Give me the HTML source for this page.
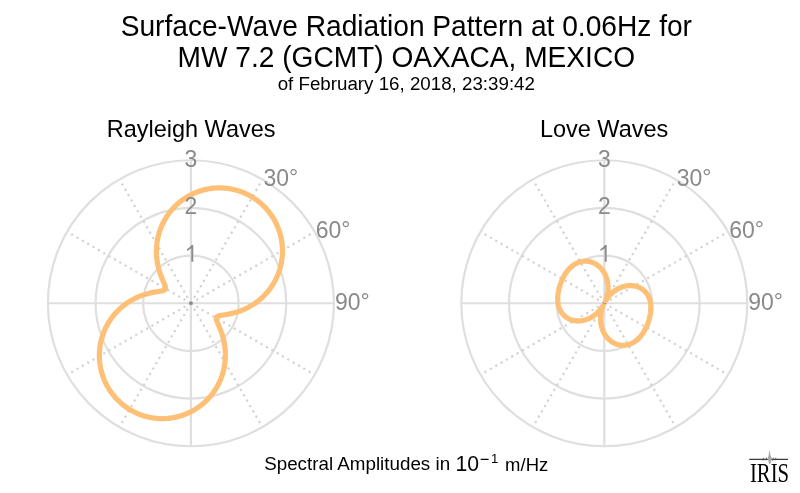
<!DOCTYPE html>
<html><head><meta charset="utf-8"><style>html,body{margin:0;padding:0;background:#fff;}svg{display:block;filter:blur(0.35px)}</style></head>
<body><svg width="800" height="493" viewBox="0 0 800 493">
<rect width="800" height="493" fill="#ffffff"/>
<text transform="translate(406.30,36.10) scale(1,1.04)" font-size="28.15" fill="#000" text-anchor="middle" font-family="Liberation Sans, sans-serif">Surface-Wave Radiation Pattern at 0.06Hz for</text>
<text transform="translate(406.30,66.80) scale(1,1.04)" font-size="28.12" fill="#000" text-anchor="middle" font-family="Liberation Sans, sans-serif">MW 7.2 (GCMT) OAXACA, MEXICO</text>
<text transform="translate(406.30,90.00) scale(1,0.98)" font-size="18.75" fill="#000" text-anchor="middle" font-family="Liberation Sans, sans-serif">of February 16, 2018, 23:39:42</text>
<text transform="translate(191.10,136.90) scale(1,1.04)" font-size="23.5" fill="#000" text-anchor="middle" font-family="Liberation Sans, sans-serif">Rayleigh Waves</text>
<text transform="translate(604.10,136.90) scale(1,1.04)" font-size="23.5" fill="#000" text-anchor="middle" font-family="Liberation Sans, sans-serif">Love Waves</text>
<circle cx="190.9" cy="303.25" r="47.67" fill="none" stroke="#dfdfdf" stroke-width="2.2"/>
<circle cx="190.9" cy="303.25" r="95.33" fill="none" stroke="#dfdfdf" stroke-width="2.2"/>
<circle cx="190.9" cy="303.25" r="143.00" fill="none" stroke="#dfdfdf" stroke-width="2.2"/>
<line x1="47.900000000000006" y1="303.25" x2="333.9" y2="303.25" stroke="#dfdfdf" stroke-width="2.2"/>
<line x1="190.9" y1="160.25" x2="190.9" y2="446.25" stroke="#dfdfdf" stroke-width="2.2"/>
<line x1="190.9" y1="303.25" x2="262.40" y2="179.41" stroke="#d4d4d4" stroke-width="2.5" stroke-linecap="round" stroke-dasharray="0.01 6.17" stroke-dashoffset="-1.2"/>
<line x1="190.9" y1="303.25" x2="314.74" y2="231.75" stroke="#d4d4d4" stroke-width="2.5" stroke-linecap="round" stroke-dasharray="0.01 6.17" stroke-dashoffset="-1.2"/>
<line x1="190.9" y1="303.25" x2="314.74" y2="374.75" stroke="#d4d4d4" stroke-width="2.5" stroke-linecap="round" stroke-dasharray="0.01 6.17" stroke-dashoffset="-1.2"/>
<line x1="190.9" y1="303.25" x2="262.40" y2="427.09" stroke="#d4d4d4" stroke-width="2.5" stroke-linecap="round" stroke-dasharray="0.01 6.17" stroke-dashoffset="-1.2"/>
<line x1="190.9" y1="303.25" x2="119.40" y2="427.09" stroke="#d4d4d4" stroke-width="2.5" stroke-linecap="round" stroke-dasharray="0.01 6.17" stroke-dashoffset="-1.2"/>
<line x1="190.9" y1="303.25" x2="67.06" y2="374.75" stroke="#d4d4d4" stroke-width="2.5" stroke-linecap="round" stroke-dasharray="0.01 6.17" stroke-dashoffset="-1.2"/>
<line x1="190.9" y1="303.25" x2="67.06" y2="231.75" stroke="#d4d4d4" stroke-width="2.5" stroke-linecap="round" stroke-dasharray="0.01 6.17" stroke-dashoffset="-1.2"/>
<line x1="190.9" y1="303.25" x2="119.40" y2="179.41" stroke="#d4d4d4" stroke-width="2.5" stroke-linecap="round" stroke-dasharray="0.01 6.17" stroke-dashoffset="-1.2"/>
<circle cx="190.9" cy="303.25" r="1.8" fill="#8a8a8a"/>
<path d="M190.90,194.78 L191.85,194.30 L192.81,193.84 L193.78,193.40 L194.75,192.97 L195.73,192.56 L196.72,192.17 L197.72,191.79 L198.72,191.43 L199.73,191.08 L200.74,190.75 L201.76,190.44 L202.79,190.15 L203.82,189.88 L204.85,189.62 L205.89,189.38 L206.93,189.16 L207.98,188.95 L209.03,188.76 L210.09,188.59 L211.14,188.44 L212.20,188.31 L213.26,188.19 L214.33,188.10 L215.39,188.02 L216.46,187.96 L217.53,187.91 L218.60,187.89 L219.66,187.88 L220.73,187.89 L221.80,187.92 L222.87,187.97 L223.94,188.04 L225.00,188.12 L226.07,188.22 L227.13,188.34 L228.19,188.48 L229.25,188.64 L230.30,188.81 L231.36,189.01 L232.40,189.22 L233.45,189.44 L234.49,189.69 L235.53,189.96 L236.56,190.24 L237.59,190.54 L238.61,190.85 L239.63,191.19 L240.64,191.54 L241.64,191.91 L242.64,192.29 L243.63,192.69 L244.62,193.11 L245.59,193.55 L246.56,194.00 L247.53,194.47 L248.48,194.96 L249.43,195.46 L250.36,195.98 L251.29,196.51 L252.21,197.06 L253.12,197.63 L254.02,198.21 L254.91,198.80 L255.79,199.41 L256.65,200.04 L257.51,200.68 L258.36,201.33 L259.19,202.00 L260.02,202.68 L260.83,203.38 L261.63,204.09 L262.42,204.81 L263.19,205.55 L263.96,206.30 L264.71,207.06 L265.44,207.84 L266.17,208.63 L266.88,209.43 L267.57,210.24 L268.25,211.06 L268.92,211.90 L269.58,212.74 L270.22,213.60 L270.84,214.47 L271.45,215.34 L272.05,216.23 L272.62,217.13 L273.19,218.04 L273.74,218.95 L274.27,219.88 L274.79,220.81 L275.29,221.76 L275.77,222.71 L276.24,223.67 L276.70,224.63 L277.13,225.61 L277.55,226.59 L277.96,227.57 L278.34,228.57 L278.71,229.57 L279.06,230.57 L279.40,231.59 L279.72,232.60 L280.02,233.62 L280.30,234.65 L280.57,235.68 L280.82,236.72 L281.05,237.75 L281.26,238.80 L281.46,239.84 L281.64,240.89 L281.80,241.94 L281.94,242.99 L282.07,244.05 L282.17,245.10 L282.26,246.16 L282.34,247.22 L282.39,248.28 L282.43,249.34 L282.45,250.39 L282.45,251.45 L282.43,252.51 L282.40,253.57 L282.35,254.63 L282.28,255.68 L282.19,256.73 L282.09,257.78 L281.97,258.83 L281.83,259.88 L281.67,260.92 L281.50,261.96 L281.31,263.00 L281.10,264.03 L280.88,265.06 L280.64,266.08 L280.38,267.10 L280.11,268.11 L279.81,269.12 L279.51,270.12 L279.18,271.12 L278.84,272.11 L278.49,273.09 L278.12,274.07 L277.73,275.04 L277.33,276.00 L276.91,276.95 L276.48,277.90 L276.03,278.84 L275.56,279.77 L275.09,280.69 L274.59,281.61 L274.09,282.51 L273.57,283.40 L273.03,284.29 L272.48,285.16 L271.92,286.03 L271.35,286.88 L270.76,287.73 L270.16,288.56 L269.54,289.38 L268.92,290.19 L268.28,290.99 L267.63,291.78 L266.97,292.56 L266.30,293.32 L265.62,294.08 L264.92,294.82 L264.22,295.54 L263.50,296.26 L262.78,296.96 L262.05,297.65 L261.30,298.33 L260.55,298.99 L259.79,299.64 L259.02,300.28 L258.25,300.90 L257.46,301.51 L256.67,302.10 L255.88,302.68 L255.07,303.25 L254.26,303.80 L253.45,304.34 L252.63,304.87 L251.80,305.38 L250.97,305.87 L250.14,306.35 L249.30,306.82 L248.46,307.27 L247.61,307.71 L246.77,308.14 L245.92,308.55 L245.07,308.94 L244.22,309.33 L243.37,309.69 L242.52,310.05 L241.67,310.39 L240.83,310.71 L239.98,311.02 L239.14,311.32 L238.30,311.61 L237.46,311.88 L236.63,312.14 L235.80,312.39 L234.98,312.62 L234.17,312.84 L233.36,313.05 L232.56,313.25 L231.77,313.44 L230.98,313.62 L230.21,313.78 L229.45,313.94 L228.70,314.09 L227.97,314.23 L227.24,314.36 L226.54,314.49 L225.84,314.60 L225.17,314.72 L224.51,314.82 L223.87,314.92 L223.25,315.02 L222.65,315.12 L222.07,315.22 L221.52,315.31 L220.98,315.40 L220.48,315.50 L220.00,315.60 L219.54,315.70 L219.11,315.81 L218.71,315.93 L218.34,316.05 L218.00,316.18 L217.69,316.32 L217.41,316.47 L217.16,316.63 L216.94,316.80 L216.75,316.99 L216.59,317.20 L216.46,317.42 L216.37,317.66 L216.30,317.91 L216.26,318.19 L216.25,318.48 L216.26,318.79 L216.30,319.12 L216.37,319.48 L216.46,319.85 L216.57,320.24 L216.70,320.65 L216.85,321.09 L217.02,321.54 L217.21,322.02 L217.41,322.51 L217.62,323.03 L217.85,323.56 L218.09,324.11 L218.34,324.69 L218.59,325.28 L218.85,325.89 L219.12,326.51 L219.39,327.16 L219.67,327.82 L219.94,328.50 L220.22,329.19 L220.50,329.90 L220.78,330.63 L221.05,331.37 L221.32,332.12 L221.59,332.89 L221.86,333.67 L222.12,334.47 L222.37,335.27 L222.62,336.09 L222.85,336.92 L223.09,337.77 L223.31,338.62 L223.52,339.48 L223.73,340.36 L223.92,341.24 L224.11,342.13 L224.28,343.03 L224.44,343.94 L224.59,344.86 L224.73,345.78 L224.86,346.72 L224.97,347.65 L225.07,348.60 L225.16,349.55 L225.23,350.51 L225.29,351.47 L225.34,352.44 L225.37,353.41 L225.39,354.38 L225.39,355.36 L225.38,356.34 L225.35,357.33 L225.31,358.32 L225.25,359.31 L225.18,360.30 L225.09,361.29 L224.99,362.29 L224.87,363.28 L224.73,364.28 L224.58,365.28 L224.41,366.27 L224.22,367.27 L224.02,368.26 L223.81,369.25 L223.58,370.24 L223.33,371.23 L223.06,372.22 L222.78,373.20 L222.48,374.18 L222.17,375.16 L221.84,376.14 L221.49,377.10 L221.13,378.07 L220.75,379.03 L220.36,379.99 L219.95,380.94 L219.52,381.88 L219.08,382.82 L218.62,383.75 L218.15,384.68 L217.66,385.60 L217.15,386.51 L216.63,387.41 L216.10,388.31 L215.54,389.20 L214.98,390.08 L214.40,390.95 L213.80,391.81 L213.19,392.66 L212.57,393.50 L211.93,394.34 L211.28,395.16 L210.61,395.97 L209.93,396.77 L209.23,397.57 L208.52,398.35 L207.80,399.11 L207.07,399.87 L206.32,400.62 L205.56,401.35 L204.79,402.07 L204.00,402.78 L203.21,403.47 L202.40,404.15 L201.58,404.82 L200.74,405.47 L199.90,406.11 L199.04,406.74 L198.18,407.35 L197.30,407.95 L196.42,408.54 L195.52,409.10 L194.62,409.66 L193.70,410.20 L192.78,410.72 L191.84,411.23 L190.90,411.72 L189.95,412.20 L188.99,412.66 L188.02,413.10 L187.05,413.53 L186.07,413.94 L185.08,414.33 L184.08,414.71 L183.08,415.07 L182.07,415.42 L181.06,415.75 L180.04,416.06 L179.01,416.35 L177.98,416.62 L176.95,416.88 L175.91,417.12 L174.87,417.34 L173.82,417.55 L172.77,417.74 L171.71,417.91 L170.66,418.06 L169.60,418.19 L168.54,418.31 L167.47,418.40 L166.41,418.48 L165.34,418.54 L164.27,418.59 L163.20,418.61 L162.14,418.62 L161.07,418.61 L160.00,418.58 L158.93,418.53 L157.86,418.46 L156.80,418.38 L155.73,418.28 L154.67,418.16 L153.61,418.02 L152.55,417.86 L151.50,417.69 L150.44,417.49 L149.40,417.28 L148.35,417.06 L147.31,416.81 L146.27,416.54 L145.24,416.26 L144.21,415.96 L143.19,415.65 L142.17,415.31 L141.16,414.96 L140.16,414.59 L139.16,414.21 L138.17,413.81 L137.18,413.39 L136.21,412.95 L135.24,412.50 L134.27,412.03 L133.32,411.54 L132.37,411.04 L131.44,410.52 L130.51,409.99 L129.59,409.44 L128.68,408.87 L127.78,408.29 L126.89,407.70 L126.01,407.09 L125.15,406.46 L124.29,405.82 L123.44,405.17 L122.61,404.50 L121.78,403.82 L120.97,403.12 L120.17,402.41 L119.38,401.69 L118.61,400.95 L117.84,400.20 L117.09,399.44 L116.36,398.66 L115.63,397.87 L114.92,397.07 L114.23,396.26 L113.55,395.44 L112.88,394.60 L112.22,393.76 L111.58,392.90 L110.96,392.03 L110.35,391.16 L109.75,390.27 L109.18,389.37 L108.61,388.46 L108.06,387.55 L107.53,386.62 L107.01,385.69 L106.51,384.74 L106.03,383.79 L105.56,382.83 L105.10,381.87 L104.67,380.89 L104.25,379.91 L103.84,378.93 L103.46,377.93 L103.09,376.93 L102.74,375.93 L102.40,374.91 L102.08,373.90 L101.78,372.88 L101.50,371.85 L101.23,370.82 L100.98,369.78 L100.75,368.75 L100.54,367.70 L100.34,366.66 L100.16,365.61 L100.00,364.56 L99.86,363.51 L99.73,362.45 L99.63,361.40 L99.54,360.34 L99.46,359.28 L99.41,358.22 L99.37,357.16 L99.35,356.11 L99.35,355.05 L99.37,353.99 L99.40,352.93 L99.45,351.87 L99.52,350.82 L99.61,349.77 L99.71,348.72 L99.83,347.67 L99.97,346.62 L100.13,345.58 L100.30,344.54 L100.49,343.50 L100.70,342.47 L100.92,341.44 L101.16,340.42 L101.42,339.40 L101.69,338.39 L101.99,337.38 L102.29,336.38 L102.62,335.38 L102.96,334.39 L103.31,333.41 L103.68,332.43 L104.07,331.46 L104.47,330.50 L104.89,329.55 L105.32,328.60 L105.77,327.66 L106.24,326.73 L106.71,325.81 L107.21,324.89 L107.71,323.99 L108.23,323.10 L108.77,322.21 L109.32,321.34 L109.88,320.47 L110.45,319.62 L111.04,318.77 L111.64,317.94 L112.26,317.12 L112.88,316.31 L113.52,315.51 L114.17,314.72 L114.83,313.94 L115.50,313.18 L116.18,312.42 L116.88,311.68 L117.58,310.96 L118.30,310.24 L119.02,309.54 L119.75,308.85 L120.50,308.17 L121.25,307.51 L122.01,306.86 L122.78,306.22 L123.55,305.60 L124.34,304.99 L125.13,304.40 L125.92,303.82 L126.73,303.25 L127.54,302.70 L128.35,302.16 L129.17,301.63 L130.00,301.12 L130.83,300.63 L131.66,300.15 L132.50,299.68 L133.34,299.23 L134.19,298.79 L135.03,298.36 L135.88,297.95 L136.73,297.56 L137.58,297.17 L138.43,296.81 L139.28,296.45 L140.13,296.11 L140.97,295.79 L141.82,295.48 L142.66,295.18 L143.50,294.89 L144.34,294.62 L145.17,294.36 L146.00,294.11 L146.82,293.88 L147.63,293.66 L148.44,293.45 L149.24,293.25 L150.03,293.06 L150.82,292.88 L151.59,292.72 L152.35,292.56 L153.10,292.41 L153.83,292.27 L154.56,292.14 L155.26,292.01 L155.96,291.90 L156.63,291.78 L157.29,291.68 L157.93,291.58 L158.55,291.48 L159.15,291.38 L159.73,291.28 L160.28,291.19 L160.82,291.10 L161.32,291.00 L161.80,290.90 L162.26,290.80 L162.69,290.69 L163.09,290.57 L163.46,290.45 L163.80,290.32 L164.11,290.18 L164.39,290.03 L164.64,289.87 L164.86,289.70 L165.05,289.51 L165.21,289.30 L165.34,289.08 L165.43,288.84 L165.50,288.59 L165.54,288.31 L165.55,288.02 L165.54,287.71 L165.50,287.38 L165.43,287.02 L165.34,286.65 L165.23,286.26 L165.10,285.85 L164.95,285.41 L164.78,284.96 L164.59,284.48 L164.39,283.99 L164.18,283.47 L163.95,282.94 L163.71,282.39 L163.46,281.81 L163.21,281.22 L162.95,280.61 L162.68,279.99 L162.41,279.34 L162.13,278.68 L161.86,278.00 L161.58,277.31 L161.30,276.60 L161.02,275.87 L160.75,275.13 L160.48,274.38 L160.21,273.61 L159.94,272.83 L159.68,272.03 L159.43,271.23 L159.18,270.41 L158.95,269.58 L158.71,268.73 L158.49,267.88 L158.28,267.02 L158.07,266.14 L157.88,265.26 L157.69,264.37 L157.52,263.47 L157.36,262.56 L157.21,261.64 L157.07,260.72 L156.94,259.78 L156.83,258.85 L156.73,257.90 L156.64,256.95 L156.57,255.99 L156.51,255.03 L156.46,254.06 L156.43,253.09 L156.41,252.12 L156.41,251.14 L156.42,250.16 L156.45,249.17 L156.49,248.18 L156.55,247.19 L156.62,246.20 L156.71,245.21 L156.81,244.21 L156.93,243.22 L157.07,242.22 L157.22,241.22 L157.39,240.23 L157.58,239.23 L157.78,238.24 L157.99,237.25 L158.22,236.26 L158.47,235.27 L158.74,234.28 L159.02,233.30 L159.32,232.32 L159.63,231.34 L159.96,230.36 L160.31,229.40 L160.67,228.43 L161.05,227.47 L161.44,226.51 L161.85,225.56 L162.28,224.62 L162.72,223.68 L163.18,222.75 L163.65,221.82 L164.14,220.90 L164.65,219.99 L165.17,219.09 L165.70,218.19 L166.26,217.30 L166.82,216.42 L167.40,215.55 L168.00,214.69 L168.61,213.84 L169.23,213.00 L169.87,212.16 L170.52,211.34 L171.19,210.53 L171.87,209.73 L172.57,208.93 L173.28,208.15 L174.00,207.39 L174.73,206.63 L175.48,205.88 L176.24,205.15 L177.01,204.43 L177.80,203.72 L178.59,203.03 L179.40,202.35 L180.22,201.68 L181.06,201.03 L181.90,200.39 L182.76,199.76 L183.62,199.15 L184.50,198.55 L185.38,197.96 L186.28,197.40 L187.18,196.84 L188.10,196.30 L189.02,195.78 L189.96,195.27Z" fill="none" stroke="#fdc076" stroke-width="5.2" stroke-linejoin="round"/>
<path d="M191.35,245.08 L193.25,245.08 L193.25,261.78 L191.35,261.78 L191.35,248.28 L187.00,251.08 L187.00,249.18 Q190.30,247.28 191.60,245.08 Z" fill="#8a8a8a"/>
<text transform="translate(190.90,214.22) scale(1,1.03)" font-size="23" fill="#8a8a8a" text-anchor="middle" font-family="Liberation Sans, sans-serif">2</text>
<text transform="translate(190.90,166.55) scale(1,1.03)" font-size="23" fill="#8a8a8a" text-anchor="middle" font-family="Liberation Sans, sans-serif">3</text>
<text transform="translate(263.40,185.91) scale(1,1.03)" font-size="23" fill="#8a8a8a" font-family="Liberation Sans, sans-serif">30<tspan dy="-1">°</tspan></text>
<text transform="translate(315.74,238.25) scale(1,1.03)" font-size="23" fill="#8a8a8a" font-family="Liberation Sans, sans-serif">60<tspan dy="-1">°</tspan></text>
<text transform="translate(334.90,309.75) scale(1,1.03)" font-size="23" fill="#8a8a8a" font-family="Liberation Sans, sans-serif">90<tspan dy="-1">°</tspan></text>
<circle cx="604.3" cy="303.25" r="47.67" fill="none" stroke="#dfdfdf" stroke-width="2.2"/>
<circle cx="604.3" cy="303.25" r="95.33" fill="none" stroke="#dfdfdf" stroke-width="2.2"/>
<circle cx="604.3" cy="303.25" r="143.00" fill="none" stroke="#dfdfdf" stroke-width="2.2"/>
<line x1="461.29999999999995" y1="303.25" x2="747.3" y2="303.25" stroke="#dfdfdf" stroke-width="2.2"/>
<line x1="604.3" y1="160.25" x2="604.3" y2="446.25" stroke="#dfdfdf" stroke-width="2.2"/>
<line x1="604.3" y1="303.25" x2="675.80" y2="179.41" stroke="#d4d4d4" stroke-width="2.5" stroke-linecap="round" stroke-dasharray="0.01 6.17" stroke-dashoffset="-1.2"/>
<line x1="604.3" y1="303.25" x2="728.14" y2="231.75" stroke="#d4d4d4" stroke-width="2.5" stroke-linecap="round" stroke-dasharray="0.01 6.17" stroke-dashoffset="-1.2"/>
<line x1="604.3" y1="303.25" x2="728.14" y2="374.75" stroke="#d4d4d4" stroke-width="2.5" stroke-linecap="round" stroke-dasharray="0.01 6.17" stroke-dashoffset="-1.2"/>
<line x1="604.3" y1="303.25" x2="675.80" y2="427.09" stroke="#d4d4d4" stroke-width="2.5" stroke-linecap="round" stroke-dasharray="0.01 6.17" stroke-dashoffset="-1.2"/>
<line x1="604.3" y1="303.25" x2="532.80" y2="427.09" stroke="#d4d4d4" stroke-width="2.5" stroke-linecap="round" stroke-dasharray="0.01 6.17" stroke-dashoffset="-1.2"/>
<line x1="604.3" y1="303.25" x2="480.46" y2="374.75" stroke="#d4d4d4" stroke-width="2.5" stroke-linecap="round" stroke-dasharray="0.01 6.17" stroke-dashoffset="-1.2"/>
<line x1="604.3" y1="303.25" x2="480.46" y2="231.75" stroke="#d4d4d4" stroke-width="2.5" stroke-linecap="round" stroke-dasharray="0.01 6.17" stroke-dashoffset="-1.2"/>
<line x1="604.3" y1="303.25" x2="532.80" y2="179.41" stroke="#d4d4d4" stroke-width="2.5" stroke-linecap="round" stroke-dasharray="0.01 6.17" stroke-dashoffset="-1.2"/>
<circle cx="604.3" cy="303.25" r="1.8" fill="#8a8a8a"/>
<path d="M604.30,273.00 L604.56,273.48 L604.81,273.96 L605.05,274.45 L605.29,274.94 L605.51,275.45 L605.73,275.96 L605.94,276.47 L606.14,276.99 L606.33,277.52 L606.50,278.05 L606.67,278.59 L606.84,279.13 L606.99,279.68 L607.13,280.23 L607.26,280.79 L607.38,281.35 L607.49,281.91 L607.59,282.48 L607.68,283.05 L607.76,283.63 L607.83,284.20 L607.89,284.78 L607.94,285.37 L607.98,285.95 L608.01,286.54 L608.02,287.12 L608.03,287.71 L608.03,288.30 L608.01,288.89 L607.99,289.48 L607.95,290.07 L607.91,290.66 L607.85,291.25 L607.79,291.84 L607.71,292.42 L607.63,293.00 L607.53,293.58 L607.43,294.16 L607.32,294.73 L607.20,295.29 L607.07,295.85 L606.93,296.41 L606.78,296.95 L606.63,297.48 L606.47,298.00 L606.32,298.50 L606.16,298.98 L606.00,299.43 L605.86,299.84 L605.73,300.19 L605.62,300.48 L605.56,300.67 L605.55,300.75 L605.59,300.71 L605.70,300.56 L605.85,300.33 L606.05,300.02 L606.29,299.67 L606.54,299.28 L606.82,298.88 L607.12,298.46 L607.44,298.03 L607.77,297.59 L608.11,297.16 L608.46,296.73 L608.82,296.29 L609.19,295.86 L609.57,295.44 L609.96,295.02 L610.35,294.61 L610.76,294.20 L611.17,293.80 L611.59,293.40 L612.01,293.02 L612.44,292.64 L612.88,292.27 L613.32,291.91 L613.77,291.56 L614.22,291.21 L614.68,290.88 L615.15,290.55 L615.61,290.24 L616.09,289.93 L616.56,289.63 L617.04,289.35 L617.52,289.07 L618.01,288.80 L618.50,288.55 L618.99,288.30 L619.49,288.06 L619.98,287.84 L620.48,287.62 L620.98,287.42 L621.49,287.22 L621.99,287.04 L622.50,286.87 L623.00,286.70 L623.51,286.55 L624.01,286.41 L624.52,286.28 L625.03,286.16 L625.53,286.06 L626.04,285.96 L626.54,285.87 L627.05,285.79 L627.55,285.73 L628.05,285.67 L628.55,285.63 L629.05,285.60 L629.55,285.57 L630.04,285.56 L630.53,285.56 L631.02,285.57 L631.50,285.58 L631.98,285.61 L632.46,285.65 L632.94,285.70 L633.41,285.76 L633.88,285.83 L634.34,285.91 L634.80,285.99 L635.25,286.09 L635.70,286.20 L636.15,286.32 L636.59,286.44 L637.02,286.58 L637.45,286.72 L637.88,286.87 L638.30,287.03 L638.71,287.20 L639.12,287.38 L639.52,287.57 L639.92,287.76 L640.31,287.97 L640.69,288.18 L641.07,288.40 L641.44,288.62 L641.80,288.86 L642.16,289.10 L642.51,289.34 L642.85,289.60 L643.19,289.86 L643.52,290.13 L643.84,290.40 L644.15,290.68 L644.46,290.97 L644.76,291.26 L645.06,291.56 L645.34,291.87 L645.62,292.18 L645.89,292.49 L646.15,292.81 L646.41,293.14 L646.66,293.47 L646.90,293.81 L647.13,294.15 L647.36,294.49 L647.58,294.84 L647.79,295.19 L648.00,295.55 L648.19,295.90 L648.38,296.27 L648.56,296.63 L648.74,297.00 L648.91,297.38 L649.07,297.75 L649.22,298.13 L649.36,298.51 L649.50,298.90 L649.63,299.28 L649.76,299.67 L649.88,300.06 L649.99,300.46 L650.09,300.85 L650.19,301.25 L650.28,301.64 L650.36,302.04 L650.44,302.44 L650.51,302.85 L650.58,303.25 L650.63,303.65 L650.69,304.06 L650.73,304.47 L650.77,304.87 L650.81,305.28 L650.84,305.69 L650.86,306.10 L650.88,306.51 L650.89,306.92 L650.90,307.33 L650.90,307.74 L650.90,308.15 L650.89,308.56 L650.88,308.97 L650.86,309.38 L650.84,309.79 L650.81,310.20 L650.78,310.61 L650.74,311.02 L650.70,311.43 L650.65,311.84 L650.60,312.25 L650.55,312.66 L650.49,313.07 L650.43,313.48 L650.37,313.89 L650.30,314.29 L650.22,314.70 L650.15,315.11 L650.07,315.51 L649.98,315.92 L649.90,316.32 L649.81,316.73 L649.71,317.13 L649.61,317.54 L649.51,317.94 L649.41,318.34 L649.30,318.75 L649.19,319.15 L649.08,319.55 L648.96,319.95 L648.84,320.35 L648.72,320.75 L648.59,321.15 L648.46,321.54 L648.33,321.94 L648.20,322.34 L648.06,322.73 L647.92,323.13 L647.77,323.52 L647.62,323.91 L647.47,324.31 L647.32,324.70 L647.16,325.09 L647.00,325.48 L646.84,325.87 L646.67,326.26 L646.50,326.64 L646.33,327.03 L646.15,327.41 L645.97,327.80 L645.79,328.18 L645.60,328.56 L645.41,328.94 L645.22,329.32 L645.02,329.69 L644.82,330.07 L644.62,330.44 L644.41,330.81 L644.19,331.18 L643.98,331.55 L643.76,331.92 L643.53,332.28 L643.31,332.64 L643.07,333.00 L642.84,333.36 L642.60,333.71 L642.35,334.07 L642.11,334.42 L641.85,334.76 L641.60,335.10 L641.34,335.44 L641.07,335.78 L640.80,336.12 L640.53,336.45 L640.25,336.77 L639.96,337.09 L639.68,337.41 L639.38,337.73 L639.09,338.04 L638.79,338.34 L638.48,338.65 L638.17,338.94 L637.86,339.24 L637.54,339.52 L637.21,339.81 L636.89,340.08 L636.55,340.35 L636.22,340.62 L635.88,340.88 L635.53,341.14 L635.18,341.38 L634.83,341.63 L634.47,341.86 L634.11,342.09 L633.74,342.32 L633.37,342.53 L632.99,342.74 L632.61,342.94 L632.23,343.14 L631.84,343.33 L631.45,343.51 L631.06,343.68 L630.66,343.84 L630.26,344.00 L629.86,344.15 L629.45,344.29 L629.04,344.42 L628.63,344.55 L628.21,344.66 L627.79,344.77 L627.37,344.87 L626.94,344.95 L626.52,345.03 L626.09,345.10 L625.66,345.16 L625.22,345.22 L624.79,345.26 L624.35,345.29 L623.91,345.31 L623.47,345.33 L623.03,345.33 L622.59,345.32 L622.15,345.30 L621.71,345.28 L621.26,345.24 L620.82,345.19 L620.38,345.13 L619.93,345.07 L619.49,344.99 L619.05,344.90 L618.61,344.80 L618.17,344.69 L617.73,344.57 L617.29,344.44 L616.85,344.30 L616.41,344.14 L615.98,343.98 L615.55,343.81 L615.12,343.62 L614.69,343.43 L614.27,343.23 L613.85,343.01 L613.43,342.78 L613.01,342.55 L612.60,342.30 L612.19,342.05 L611.79,341.78 L611.39,341.50 L610.99,341.21 L610.60,340.92 L610.22,340.61 L609.84,340.29 L609.46,339.96 L609.09,339.63 L608.72,339.28 L608.36,338.93 L608.01,338.56 L607.66,338.19 L607.32,337.80 L606.99,337.41 L606.66,337.01 L606.34,336.60 L606.03,336.18 L605.72,335.75 L605.42,335.32 L605.13,334.87 L604.84,334.42 L604.57,333.96 L604.30,333.50 L604.04,333.02 L603.79,332.54 L603.55,332.05 L603.31,331.56 L603.09,331.05 L602.87,330.54 L602.66,330.03 L602.46,329.51 L602.27,328.98 L602.10,328.45 L601.93,327.91 L601.76,327.37 L601.61,326.82 L601.47,326.27 L601.34,325.71 L601.22,325.15 L601.11,324.59 L601.01,324.02 L600.92,323.45 L600.84,322.87 L600.77,322.30 L600.71,321.72 L600.66,321.13 L600.62,320.55 L600.59,319.96 L600.58,319.38 L600.57,318.79 L600.57,318.20 L600.59,317.61 L600.61,317.02 L600.65,316.43 L600.69,315.84 L600.75,315.25 L600.81,314.66 L600.89,314.08 L600.97,313.50 L601.07,312.92 L601.17,312.34 L601.28,311.77 L601.40,311.21 L601.53,310.65 L601.67,310.09 L601.82,309.55 L601.97,309.02 L602.13,308.50 L602.28,308.00 L602.44,307.52 L602.60,307.07 L602.74,306.66 L602.87,306.31 L602.98,306.02 L603.04,305.83 L603.05,305.75 L603.01,305.79 L602.90,305.94 L602.75,306.17 L602.55,306.48 L602.31,306.83 L602.06,307.22 L601.78,307.62 L601.48,308.04 L601.16,308.47 L600.83,308.91 L600.49,309.34 L600.14,309.77 L599.78,310.21 L599.41,310.64 L599.03,311.06 L598.64,311.48 L598.25,311.89 L597.84,312.30 L597.43,312.70 L597.01,313.10 L596.59,313.48 L596.16,313.86 L595.72,314.23 L595.28,314.59 L594.83,314.94 L594.38,315.29 L593.92,315.62 L593.45,315.95 L592.99,316.26 L592.51,316.57 L592.04,316.87 L591.56,317.15 L591.08,317.43 L590.59,317.70 L590.10,317.95 L589.61,318.20 L589.11,318.44 L588.62,318.66 L588.12,318.88 L587.62,319.08 L587.11,319.28 L586.61,319.46 L586.10,319.63 L585.60,319.80 L585.09,319.95 L584.59,320.09 L584.08,320.22 L583.57,320.34 L583.07,320.44 L582.56,320.54 L582.06,320.63 L581.55,320.71 L581.05,320.77 L580.55,320.83 L580.05,320.87 L579.55,320.90 L579.05,320.93 L578.56,320.94 L578.07,320.94 L577.58,320.93 L577.10,320.92 L576.62,320.89 L576.14,320.85 L575.66,320.80 L575.19,320.74 L574.72,320.67 L574.26,320.59 L573.80,320.51 L573.35,320.41 L572.90,320.30 L572.45,320.18 L572.01,320.06 L571.58,319.92 L571.15,319.78 L570.72,319.63 L570.30,319.47 L569.89,319.30 L569.48,319.12 L569.08,318.93 L568.68,318.74 L568.29,318.53 L567.91,318.32 L567.53,318.10 L567.16,317.88 L566.80,317.64 L566.44,317.40 L566.09,317.16 L565.75,316.90 L565.41,316.64 L565.08,316.37 L564.76,316.10 L564.45,315.82 L564.14,315.53 L563.84,315.24 L563.54,314.94 L563.26,314.63 L562.98,314.32 L562.71,314.01 L562.45,313.69 L562.19,313.36 L561.94,313.03 L561.70,312.69 L561.47,312.35 L561.24,312.01 L561.02,311.66 L560.81,311.31 L560.60,310.95 L560.41,310.60 L560.22,310.23 L560.04,309.87 L559.86,309.50 L559.69,309.12 L559.53,308.75 L559.38,308.37 L559.24,307.99 L559.10,307.60 L558.97,307.22 L558.84,306.83 L558.72,306.44 L558.61,306.04 L558.51,305.65 L558.41,305.25 L558.32,304.86 L558.24,304.46 L558.16,304.06 L558.09,303.65 L558.02,303.25 L557.97,302.85 L557.91,302.44 L557.87,302.03 L557.83,301.63 L557.79,301.22 L557.76,300.81 L557.74,300.40 L557.72,299.99 L557.71,299.58 L557.70,299.17 L557.70,298.76 L557.70,298.35 L557.71,297.94 L557.72,297.53 L557.74,297.12 L557.76,296.71 L557.79,296.30 L557.82,295.89 L557.86,295.48 L557.90,295.07 L557.95,294.66 L558.00,294.25 L558.05,293.84 L558.11,293.43 L558.17,293.02 L558.23,292.61 L558.30,292.21 L558.38,291.80 L558.45,291.39 L558.53,290.99 L558.62,290.58 L558.70,290.18 L558.79,289.77 L558.89,289.37 L558.99,288.96 L559.09,288.56 L559.19,288.16 L559.30,287.75 L559.41,287.35 L559.52,286.95 L559.64,286.55 L559.76,286.15 L559.88,285.75 L560.01,285.35 L560.14,284.96 L560.27,284.56 L560.40,284.16 L560.54,283.77 L560.68,283.37 L560.83,282.98 L560.98,282.59 L561.13,282.19 L561.28,281.80 L561.44,281.41 L561.60,281.02 L561.76,280.63 L561.93,280.24 L562.10,279.86 L562.27,279.47 L562.45,279.09 L562.63,278.70 L562.81,278.32 L563.00,277.94 L563.19,277.56 L563.38,277.18 L563.58,276.81 L563.78,276.43 L563.98,276.06 L564.19,275.69 L564.41,275.32 L564.62,274.95 L564.84,274.58 L565.07,274.22 L565.29,273.86 L565.53,273.50 L565.76,273.14 L566.00,272.79 L566.25,272.43 L566.49,272.08 L566.75,271.74 L567.00,271.40 L567.26,271.06 L567.53,270.72 L567.80,270.38 L568.07,270.05 L568.35,269.73 L568.64,269.41 L568.92,269.09 L569.22,268.77 L569.51,268.46 L569.81,268.16 L570.12,267.85 L570.43,267.56 L570.74,267.26 L571.06,266.98 L571.39,266.69 L571.71,266.42 L572.05,266.15 L572.38,265.88 L572.72,265.62 L573.07,265.36 L573.42,265.12 L573.77,264.87 L574.13,264.64 L574.49,264.41 L574.86,264.18 L575.23,263.97 L575.61,263.76 L575.99,263.56 L576.37,263.36 L576.76,263.17 L577.15,262.99 L577.54,262.82 L577.94,262.66 L578.34,262.50 L578.74,262.35 L579.15,262.21 L579.56,262.08 L579.97,261.95 L580.39,261.84 L580.81,261.73 L581.23,261.63 L581.66,261.55 L582.08,261.47 L582.51,261.40 L582.94,261.34 L583.38,261.28 L583.81,261.24 L584.25,261.21 L584.69,261.19 L585.13,261.17 L585.57,261.17 L586.01,261.18 L586.45,261.20 L586.89,261.22 L587.34,261.26 L587.78,261.31 L588.22,261.37 L588.67,261.43 L589.11,261.51 L589.55,261.60 L589.99,261.70 L590.43,261.81 L590.87,261.93 L591.31,262.06 L591.75,262.20 L592.19,262.36 L592.62,262.52 L593.05,262.69 L593.48,262.88 L593.91,263.07 L594.33,263.27 L594.75,263.49 L595.17,263.72 L595.59,263.95 L596.00,264.20 L596.41,264.45 L596.81,264.72 L597.21,265.00 L597.61,265.29 L598.00,265.58 L598.38,265.89 L598.76,266.21 L599.14,266.54 L599.51,266.87 L599.88,267.22 L600.24,267.57 L600.59,267.94 L600.94,268.31 L601.28,268.70 L601.61,269.09 L601.94,269.49 L602.26,269.90 L602.57,270.32 L602.88,270.75 L603.18,271.18 L603.47,271.63 L603.76,272.08 L604.03,272.54Z" fill="none" stroke="#fdc076" stroke-width="5.2" stroke-linejoin="round"/>
<path d="M604.75,245.08 L606.65,245.08 L606.65,261.78 L604.75,261.78 L604.75,248.28 L600.40,251.08 L600.40,249.18 Q603.70,247.28 605.00,245.08 Z" fill="#8a8a8a"/>
<text transform="translate(604.30,214.22) scale(1,1.03)" font-size="23" fill="#8a8a8a" text-anchor="middle" font-family="Liberation Sans, sans-serif">2</text>
<text transform="translate(604.30,166.55) scale(1,1.03)" font-size="23" fill="#8a8a8a" text-anchor="middle" font-family="Liberation Sans, sans-serif">3</text>
<text transform="translate(676.80,185.91) scale(1,1.03)" font-size="23" fill="#8a8a8a" font-family="Liberation Sans, sans-serif">30<tspan dy="-1">°</tspan></text>
<text transform="translate(729.14,238.25) scale(1,1.03)" font-size="23" fill="#8a8a8a" font-family="Liberation Sans, sans-serif">60<tspan dy="-1">°</tspan></text>
<text transform="translate(748.30,309.75) scale(1,1.03)" font-size="23" fill="#8a8a8a" font-family="Liberation Sans, sans-serif">90<tspan dy="-1">°</tspan></text>
<text transform="translate(264.15,470.20) scale(1,0.97)" font-size="18.8" fill="#000" font-family="Liberation Sans, sans-serif">Spectral Amplitudes in</text>
<text transform="translate(455.50,470.60) scale(1,1.0)" font-size="21.2" fill="#000" font-family="Liberation Sans, sans-serif">10</text>
<rect x="480.7" y="458.75" width="7.9" height="1.25" fill="#000"/>
<text transform="translate(491.00,463.10) scale(1,1.0)" font-size="13.1" fill="#000" font-family="Liberation Sans, sans-serif">1</text>
<text transform="translate(505.10,471.00) scale(1,0.99)" font-size="18.5" fill="#000" font-family="Liberation Sans, sans-serif">m/Hz</text>
<g>
<path d="M749.2,459.3 L788,459.3" fill="none" stroke="#3a3a3a" stroke-width="1.15"/>
<path d="M762.8,460.6 L763.8,457.8 M765.8,460.4 L766.6,457.6 M772.6,460.6 L773.4,457.6 M775.2,460.4 L775.9,457.8" fill="none" stroke="#555" stroke-width="0.9"/>
<path d="M769.3,451.3 L769.9,451.3 L770.4,455 L771.9,458.6 L771.2,461.5 L770.1,464.2 L769.1,464.2 L768.4,461 L767.7,458.8 L768.6,455.5 Z" fill="#a8a8a8"/>
<text x="749.9" y="481.6" font-size="28.1" fill="#000" font-family="Liberation Serif, serif" textLength="39.2" lengthAdjust="spacingAndGlyphs">IRIS</text>
</g>
</svg></body></html>
